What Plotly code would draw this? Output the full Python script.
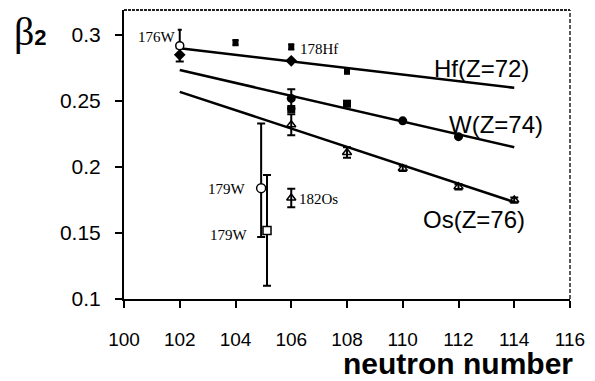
import plotly.graph_objects as go

# Axis ticks
x_ticks = [100, 102, 104, 106, 108, 110, 112, 114, 116]
y_ticks = [0.1, 0.15, 0.2, 0.25, 0.3]
y_ticktext = ["0.1", "0.15", "0.2", "0.25", "0.3"]

# Systematic fit lines (endpoints at N=102 and N=114)
fit_n = [102, 114]
fit_hf = [0.290, 0.260]
fit_w = [0.2735, 0.215]
fit_os = [0.257, 0.1735]

# Hf measurements (small squares with errors)
hf_n = [104, 106, 108]
hf_b = [0.2943, 0.291, 0.2727]
hf_err = [0.002, 0.002, 0.002]

# Filled diamonds
dia_n = [102, 106]
dia_b = [0.285, 0.2805]
dia_err = [0.005, 0.0]

# W filled circles
wc_n = [106, 110, 112]
wc_b = [0.252, 0.235, 0.223]
wc_err = [0.007, 0.0, 0.0]

# W filled squares
ws_n = [106, 108]
ws_b = [0.244, 0.248]
ws_err = [0.0, 0.002]

# Os open triangles (last entry is 182Os)
os_n = [106, 108, 110, 112, 114, 106]
os_b = [0.232, 0.211, 0.199, 0.185, 0.175, 0.1765]
os_err = [0.008, 0.004, 0.002, 0.002, 0.002, 0.007]

# Odd isotopes / special cases
w176_n, w176_b, w176_up = [102], [0.292], [0.012]
w179c_n, w179c_b, w179c_up, w179c_dn = [104.92], [0.184], [0.049], [0.037]
w179s_n, w179s_b, w179s_err = [105.13], [0.152], [0.042]

fig = go.Figure()

for yv in (fit_hf, fit_w, fit_os):
    fig.add_trace(go.Scatter(x=fit_n, y=yv, mode="lines",
                             line=dict(color="black", width=2.5), hoverinfo="skip"))

def errs(arr, arrm=None, width=4):
    d = dict(type="data", array=arr, color="black", thickness=2, width=width, visible=True)
    if arrm is not None:
        d["arrayminus"] = arrm
        d["symmetric"] = False
    return d

fig.add_trace(go.Scatter(x=hf_n, y=hf_b, mode="markers",
                         marker=dict(symbol="square", size=6, color="black"),
                         error_y=errs(hf_err, width=3)))
fig.add_trace(go.Scatter(x=dia_n, y=dia_b, mode="markers",
                         marker=dict(symbol="diamond", size=9, color="black"),
                         error_y=errs(dia_err)))
fig.add_trace(go.Scatter(x=wc_n, y=wc_b, mode="markers",
                         marker=dict(symbol="circle", size=9, color="black"),
                         error_y=errs(wc_err)))
fig.add_trace(go.Scatter(x=ws_n, y=ws_b, mode="markers",
                         marker=dict(symbol="square", size=8, color="black"),
                         error_y=errs(ws_err)))
fig.add_trace(go.Scatter(x=os_n, y=os_b, mode="markers",
                         marker=dict(symbol="triangle-up-open", size=8, color="black",
                                     line=dict(width=1.5)),
                         error_y=errs(os_err)))
fig.add_trace(go.Scatter(x=w176_n, y=w176_b, mode="markers",
                         marker=dict(symbol="circle", size=8, color="white",
                                     line=dict(color="black", width=1.5)),
                         error_y=errs(w176_up, [0.0], width=2)))
fig.add_trace(go.Scatter(x=w179c_n, y=w179c_b, mode="markers",
                         marker=dict(symbol="circle", size=9, color="white",
                                     line=dict(color="black", width=1.5)),
                         error_y=errs(w179c_up, w179c_dn)))
fig.add_trace(go.Scatter(x=w179s_n, y=w179s_b, mode="markers",
                         marker=dict(symbol="square", size=8, color="white",
                                     line=dict(color="black", width=1.5)),
                         error_y=errs(w179s_err)))

serif = dict(family="Liberation Serif, Times New Roman, serif", size=15, color="black")
sans = dict(family="Liberation Sans, Arial, sans-serif", size=24, color="black")

notes = [
    ("176W", 101.95, 0.2985, "right", serif),
    ("178Hf", 106.25, 0.2895, "left", serif),
    ("179W", 104.45, 0.1833, "right", serif),
    ("179W", 104.52, 0.1485, "right", serif),
    ("182Os", 106.2, 0.1758, "left", serif),
    ("Hf(Z=72)", 111.05, 0.275, "left", sans),
    ("W(Z=74)", 111.6, 0.2326, "left", sans),
    ("Os(Z=76)", 110.65, 0.160, "left", sans),
]
for txt, x, y, anc, f in notes:
    fig.add_annotation(x=x, y=y, text=txt, showarrow=False, xanchor=anc,
                       yanchor="middle", font=f)

# y-axis symbol
fig.add_annotation(xref="paper", yref="paper", x=-0.252, y=0.925, xanchor="left",
                   yanchor="middle", showarrow=False,
                   font=dict(color="black", family="Liberation Sans, Arial, sans-serif"),
                   text="<span style='font-family:Liberation Serif;font-size:40px'>β</span>"
                        "<span style='font-size:22px'><b>2</b></span>")
# x-axis title
fig.add_annotation(xref="paper", yref="paper", x=1.009, y=-0.2837, xanchor="right",
                   yanchor="bottom", showarrow=False, text="<b>neutron number</b>",
                   borderpad=0,
                   font=dict(family="Liberation Sans, Arial, sans-serif", size=30, color="black"))

# dotted top and right frame
fig.add_shape(type="line", xref="paper", yref="paper", x0=0, x1=1, y0=1, y1=1,
              line=dict(color="#222", width=2, dash="3px,1px"))
fig.add_shape(type="line", xref="paper", yref="paper", x0=1, x1=1, y0=0, y1=1,
              line=dict(color="#222", width=1.5, dash="4px,2px"))

fig.update_layout(
    width=595, height=381,
    margin=dict(l=124, r=22, t=10, b=82),
    paper_bgcolor="white", plot_bgcolor="white",
    showlegend=False,
    xaxis=dict(range=[100, 116], tickvals=x_ticks, ticks="outside", ticklen=7,
               tickwidth=1.5, tickcolor="black", showgrid=False, zeroline=False,
               showline=True, linecolor="black", linewidth=2, ticklabelstandoff=15,
               tickfont=dict(family="Liberation Sans, Arial, sans-serif", size=19, color="black")),
    yaxis=dict(range=[0.1, 0.319], tickvals=y_ticks, ticktext=y_ticktext, ticks="outside",
               ticklen=7, tickwidth=1.5, tickcolor="black", showgrid=False, zeroline=False,
               showline=True, linecolor="black", linewidth=2, ticklabelstandoff=10,
               tickfont=dict(family="Liberation Sans, Arial, sans-serif", size=21, color="black")),
)

fig.write_html("out.html")
